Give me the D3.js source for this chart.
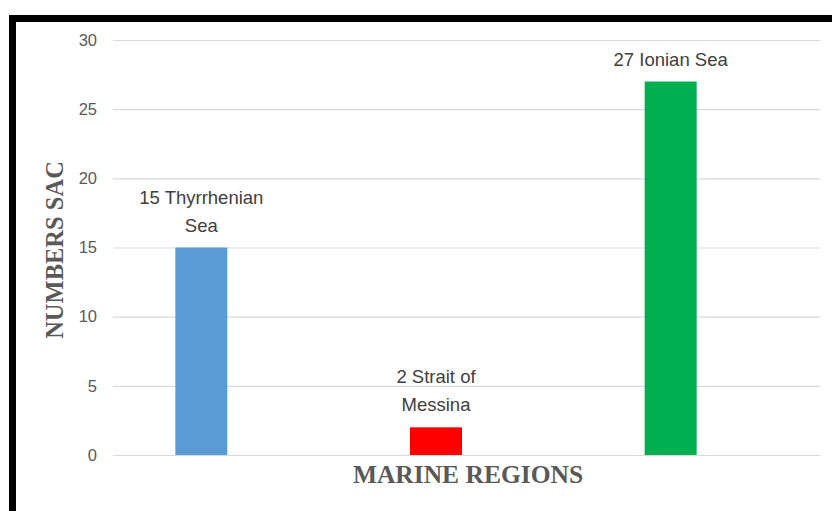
<!DOCTYPE html>
<html><head><meta charset="utf-8">
<script src="https://cdn.jsdelivr.net/npm/d3@7"></script>
<style>body{margin:0;background:#fff;}svg{display:block;}</style>
</head><body>
<svg id="c" width="832" height="511"></svg>
<script>
const categories = ["Thyrrhenian Sea", "Strait of Messina", "Ionian Sea"];
const values = [15, 2, 27];
const colors = ["#5B9BD5", "#FF0000", "#00B050"];
const labelLines = [["15 Thyrrhenian", "Sea"], ["2 Strait of", "Messina"], ["27 Ionian Sea"]];
const yTicks = [0, 5, 10, 15, 20, 25, 30];
const yTitle = "NUMBERS SAC";
const xTitle = "MARINE REGIONS";

const svg = d3.select("#c");
svg.append("rect").attr("x",0).attr("y",0).attr("width",832).attr("height",511).attr("fill","#fff");
// frame
svg.append("rect").attr("x",9).attr("y",15).attr("width",823).attr("height",7).attr("fill","#000");
svg.append("rect").attr("x",9).attr("y",15).attr("width",7).attr("height",496).attr("fill","#000");

const y = d3.scaleLinear().domain([0,30]).range([455,40]);
const x = d3.scaleBand().domain(categories).range([84,788]).paddingInner(0.78).paddingOuter(0.39);

const gx0 = 113, gx1 = 820;
const axis = d3.axisLeft(y).tickValues(yTicks).tickSize(-(gx1-gx0)).tickPadding(16);
const g = svg.append("g").attr("transform",`translate(${gx0},0)`).call(axis);
g.select(".domain").remove();
g.selectAll(".tick line").attr("stroke","#d9d9d9").attr("stroke-width",1.2);
g.selectAll(".tick text").attr("fill","#595959").attr("font-family","Liberation Sans, Arial, sans-serif").attr("font-size",16.5);

const bw = 52;
svg.selectAll("rect.bar").data(categories).enter().append("rect").attr("class","bar")
  .attr("x",(d)=>x(d)+x.bandwidth()/2-bw/2).attr("width",bw)
  .attr("y",(d,i)=>y(values[i])).attr("height",(d,i)=>y(0)-y(values[i]))
  .attr("fill",(d,i)=>colors[i]);

categories.forEach((c,i)=>{
  const lines = labelLines[i];
  const cx = x(c)+x.bandwidth()/2;
  const base = y(values[i]) - 16;
  const t = svg.append("text").attr("text-anchor","middle").attr("fill","#404040")
    .attr("font-family","Liberation Sans, Arial, sans-serif").attr("font-size",18.5);
  lines.forEach((ln,j)=>{
    t.append("tspan").attr("x",cx).attr("y",base - (lines.length-1-j)*28).text(ln);
  });
});

svg.append("text").attr("transform","translate(63,250) rotate(-90)").attr("text-anchor","middle")
  .attr("font-family","Liberation Serif, Times New Roman, serif").attr("font-weight","bold")
  .attr("font-size",24.5).attr("fill","#595959").text(yTitle);
svg.append("text").attr("x",468).attr("y",483).attr("text-anchor","middle")
  .attr("font-family","Liberation Serif, Times New Roman, serif").attr("font-weight","bold")
  .attr("font-size",25.5).attr("fill","#595959").text(xTitle);
</script>
</body></html>
